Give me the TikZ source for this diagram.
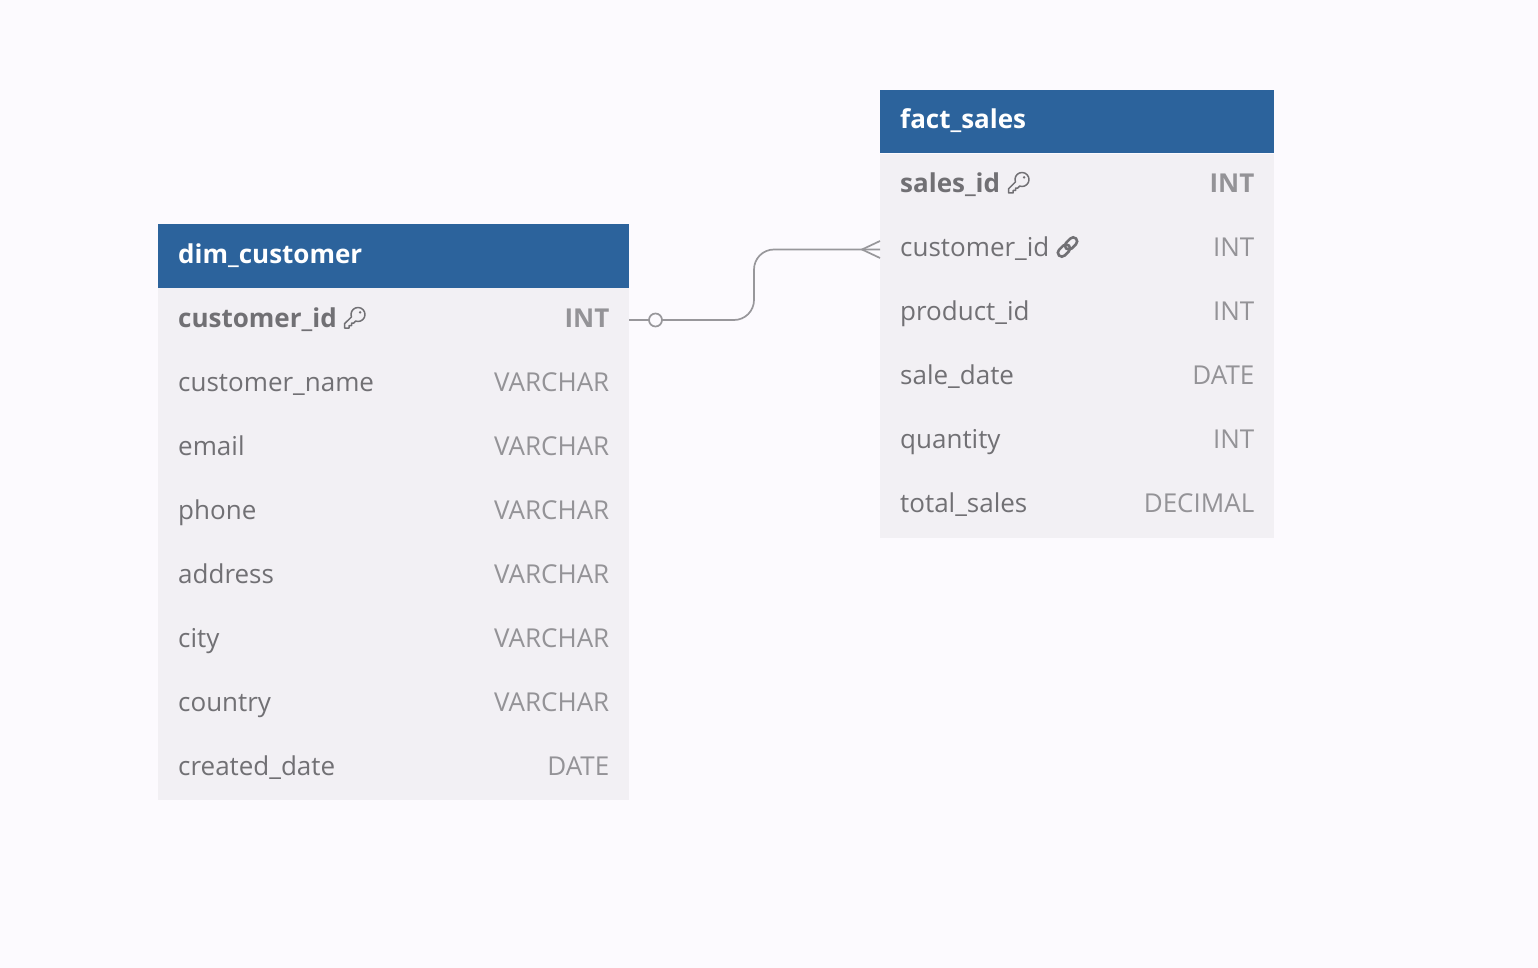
\documentclass[tikz,border=0pt]{standalone}
\usepackage{fontspec}
\setmainfont{Open Sans}
\definecolor{pagebg}{HTML}{FCFAFE}
\definecolor{headblue}{HTML}{2C639C}
\definecolor{rowbg}{HTML}{F2F0F4}
\definecolor{namegray}{HTML}{717074}
\definecolor{typegray}{HTML}{949397}
\definecolor{linkgray}{HTML}{98979B}
\tikzset{
	tablehead/.style={rectangle, fill=headblue, draw=none, minimum height=64pt, inner sep=0pt, outer sep=0pt},
	tablebody/.style={rectangle, fill=rowbg, draw=none, inner sep=0pt, outer sep=0pt},
	headtext/.style={anchor=base west, inner sep=0pt, text=white, font=\fontsize{26}{30}\selectfont\bfseries},
	colname/.style={anchor=base west, inner sep=0pt, text=namegray, font=\fontsize{26}{30}\selectfont},
	pkname/.style={colname, font=\fontsize{26}{30}\selectfont\bfseries},
	coltype/.style={anchor=base east, inner sep=0pt, text=typegray, font=\fontsize{26}{30}\selectfont},
	pktype/.style={coltype, font=\fontsize{26}{30}\selectfont\bfseries},
	relline/.style={draw=linkgray, line width=1.7pt},
	keyicon/.pic={
		\draw[namegray, line width=1.5pt, line join=round] (-3.08pt,1.11pt) arc[start angle=200, delta angle=-310, radius=7pt]
			-- (-1pt,-5.2pt) -- (-3pt,-5.2pt) -- (-3pt,-7.5pt) -- (-5.5pt,-7.5pt) -- (-5.5pt,-10pt) -- (-10pt,-10pt) -- (-10pt,-5.8pt) -- cycle;
		\fill[namegray] (5.6pt,5.6pt) circle[radius=1.3pt];
	},
	linkicon/.pic={
		\draw[namegray, line width=2.6pt, rotate=45, rounded corners=4pt] (-12pt,-4pt) rectangle (2pt,4pt);
		\draw[namegray, line width=2.6pt, rotate=45, rounded corners=4pt] (-2pt,-4pt) rectangle (12pt,4pt);
	}
}

\begin{document}
\begin{tikzpicture}[x=1pt,y=-1pt]
	\fill[pagebg] (0,0) rectangle (1538,968);
	\useasboundingbox (0,0) rectangle (1538,968);
	
	% Left table
	\node[tablebody, minimum width=471pt, minimum height=512pt] (dimbody) at (393.5,544) {};
	\node[tablehead, minimum width=471pt] (dimhead) at (393.5,256) {};
	\node[headtext] (dimtitle) at (178,263) {dim\_customer};
	
	\node[pkname] (dimA) at (178,327) {customer\_id};
	\node[colname] (dimB) at (178,391) {customer\_name};
	\node[colname] (dimC) at (178,455) {email};
	\node[colname] (dimD) at (178,519) {phone};
	\node[colname] (dimE) at (178,583) {address};
	\node[colname] (dimF) at (178,647) {city};
	\node[colname] (dimG) at (178,711) {country};
	\node[colname] (dimH) at (178,775) {created\_date};
	
	\node[pktype] (dimAt) at (609.5,327) {INT};
	\node[coltype] (dimBt) at (609.5,391) {VARCHAR};
	\node[coltype] (dimCt) at (609.5,455) {VARCHAR};
	\node[coltype] (dimDt) at (609.5,519) {VARCHAR};
	\node[coltype] (dimEt) at (609.5,583) {VARCHAR};
	\node[coltype] (dimFt) at (609.5,647) {VARCHAR};
	\node[coltype] (dimGt) at (609.5,711) {VARCHAR};
	\node[coltype] (dimHt) at (609.5,775) {DATE};
	
	\pic at (354.5,318) {keyicon};
	
	% Right table
	\node[tablebody, minimum width=394pt, minimum height=384pt] (factbody) at (1077,346) {};
	\node[tablehead, minimum width=394pt, minimum height=63.5pt] (facthead) at (1077,121.75) {};
	\node[headtext] (facttitle) at (900,128.7) {fact\_sales};
	
	\node[pkname] (factA) at (900,192.7) {sales\_id};
	\node[colname] (factB) at (900,256) {customer\_id};
	\node[colname] (factC) at (900,320) {product\_id};
	\node[colname] (factD) at (900,384) {sale\_date};
	\node[colname] (factE) at (900,448) {quantity};
	\node[colname] (factF) at (900,512) {total\_sales};
	
	\node[pktype] (factAt) at (1254.5,192.7) {INT};
	\node[coltype] (factBt) at (1254.5,256) {INT};
	\node[coltype] (factCt) at (1254.5,320) {INT};
	\node[coltype] (factDt) at (1254.5,384) {DATE};
	\node[coltype] (factEt) at (1254.5,448) {INT};
	\node[coltype] (factFt) at (1254.5,512) {DECIMAL};
	
	\pic at (1018.5,183) {keyicon};
	\pic at (1067.5,247) {linkicon};
	
	% Relation between the tables
	\coordinate (relstart) at (629,320);
	\coordinate (relend) at (880,249.5);
	\coordinate (crowtip) at (862,249.5);
	\coordinate (crowup) at (880,241);
	\coordinate (crowdown) at (880,258);
	
	\draw[relline, rounded corners=20pt] (relstart) -- (754,320) -- (754,249.5) -- (relend);
	\draw[relline] (crowup) -- (crowtip) -- (crowdown);
	\node[circle, relline, fill=pagebg, minimum size=13pt, inner sep=0pt] (zeroend) at (655.5,320) {};
\end{tikzpicture}
\end{document}
